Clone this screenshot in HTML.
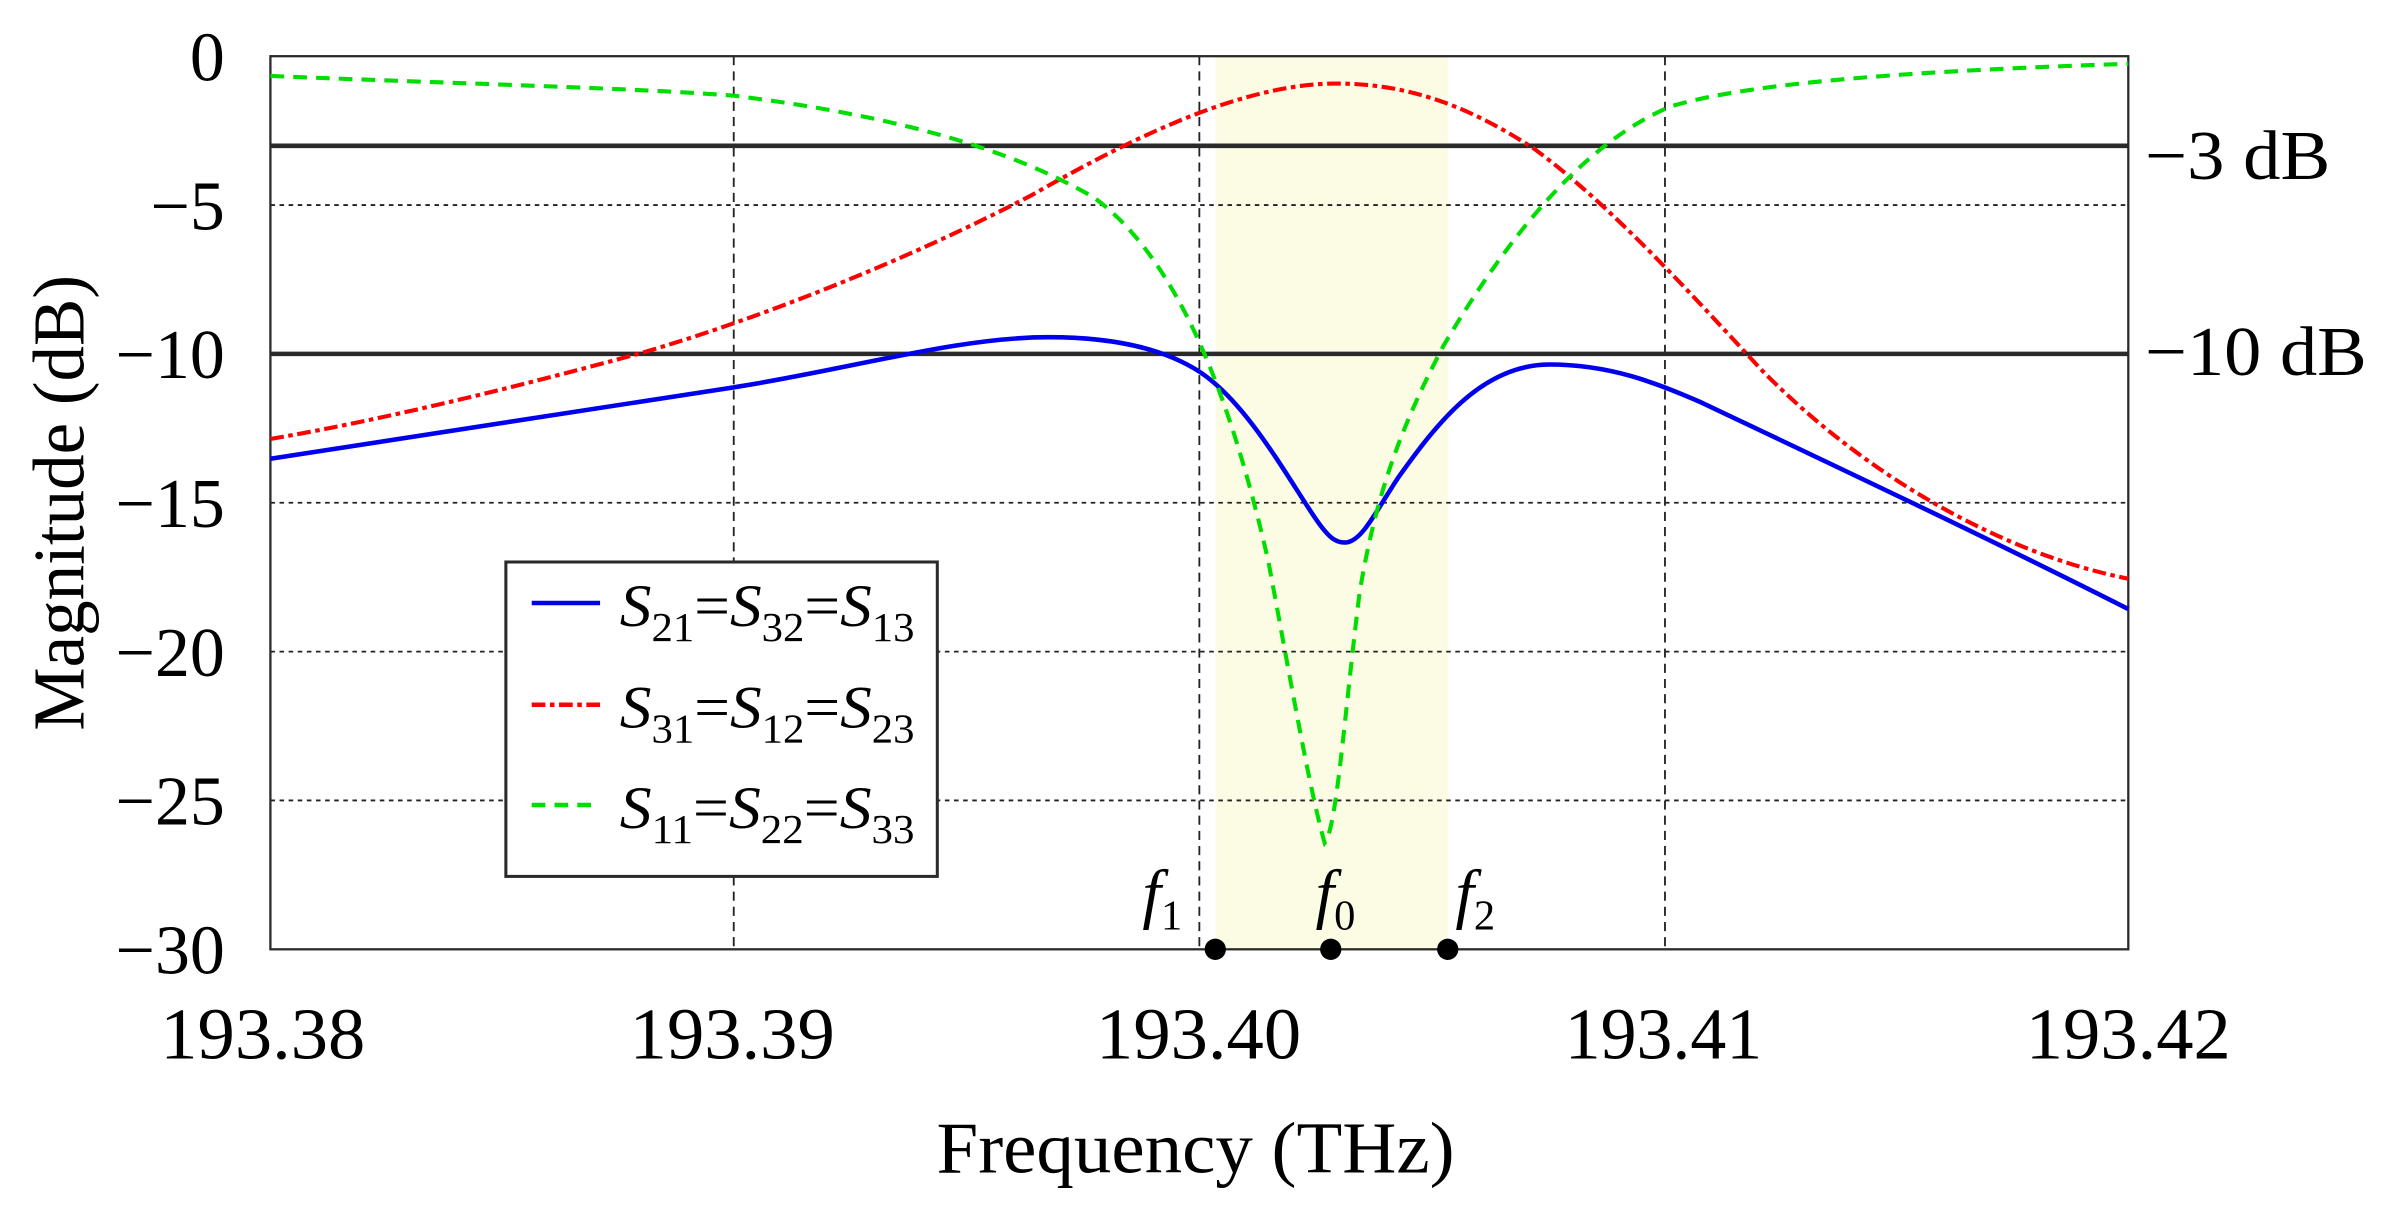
<!DOCTYPE html>
<html><head><meta charset="utf-8"><style>
html,body{margin:0;padding:0;background:#fff;}
svg{display:block;}
text{font-family:"Liberation Serif",serif;fill:#000;}
</style></head><body>
<svg width="2382" height="1206" viewBox="0 0 1568 794" preserveAspectRatio="none" xmlns="http://www.w3.org/2000/svg">
<rect x="800" y="37" width="153" height="588" fill="#fcfce4"/>
<g stroke="#222" stroke-width="1.2" stroke-dasharray="3,3" fill="none">
<line x1="178" y1="135" x2="1401" y2="135"/>
<line x1="178" y1="331" x2="1401" y2="331"/>
<line x1="178" y1="429" x2="1401" y2="429"/>
<line x1="178" y1="527" x2="1401" y2="527"/>
</g>
<g stroke="#222" stroke-width="1.2" stroke-dasharray="6,4" fill="none">
<line x1="483" y1="37" x2="483" y2="625"/>
<line x1="789.5" y1="37" x2="789.5" y2="625"/>
<line x1="1096" y1="37" x2="1096" y2="625"/>
</g>
<g stroke="#2a2a2a" stroke-width="3" fill="none">
<line x1="178" y1="96" x2="1401" y2="96"/>
<line x1="178" y1="233" x2="1401" y2="233"/>
</g>
<rect x="178" y="37" width="1223" height="588" fill="none" stroke="#2a2a2a" stroke-width="1.5"/>
<path fill="none" stroke="#0000ee" stroke-width="3" d="M178,302 C300,283 420,265 483,255 C560,243 630,222 690,222 C740,222 770,232 790,245 C820,265 845,310 865,340 C875,355 880,358 887,357 C897,355 905,338 920,315 C945,280 975,240 1020,240 C1060,240 1090,252 1120,265 C1200,303 1300,350 1401,401"/>
<path fill="none" stroke="#ff0000" stroke-width="2.7" stroke-dasharray="9,3,3,3" d="M178,289 C260,275 350,252 420,233 C500,210 600,170 680,128 C750,88 820,55 880,55 C930,55 970,72 1010,98 C1060,135 1110,190 1160,244 C1230,315 1320,365 1401,381"/>
<path fill="none" stroke="#00dd00" stroke-width="2.7" stroke-dasharray="9,6" d="M178,50 C300,55 420,58 483,63 C580,75 660,95 720,130 C775,170 810,260 835,370 C850,450 862,520 872,555 C880,545 885,470 895,390 C905,330 920,285 950,228 C990,160 1040,95 1100,70 C1150,55 1250,47 1401,42"/>
<rect x="333" y="370" width="284" height="207" fill="#fff" stroke="#2a2a2a" stroke-width="2"/>
<line x1="350" y1="397" x2="395" y2="397" stroke="#0000ee" stroke-width="3"/>
<line x1="350" y1="464" x2="395" y2="464" stroke="#ff0000" stroke-width="3" stroke-dasharray="9,3,3,3"/>
<line x1="350" y1="530" x2="395" y2="530" stroke="#00dd00" stroke-width="3" stroke-dasharray="9,6"/>
<g font-size="40">
<text x="408" y="412" textLength="194" lengthAdjust="spacingAndGlyphs"><tspan font-style="italic">S</tspan><tspan font-size="27" dy="10">21</tspan><tspan dy="-10">=</tspan><tspan font-style="italic">S</tspan><tspan font-size="27" dy="10">32</tspan><tspan dy="-10">=</tspan><tspan font-style="italic">S</tspan><tspan font-size="27" dy="10">13</tspan></text>
<text x="408" y="479" textLength="194" lengthAdjust="spacingAndGlyphs"><tspan font-style="italic">S</tspan><tspan font-size="27" dy="10">31</tspan><tspan dy="-10">=</tspan><tspan font-style="italic">S</tspan><tspan font-size="27" dy="10">12</tspan><tspan dy="-10">=</tspan><tspan font-style="italic">S</tspan><tspan font-size="27" dy="10">23</tspan></text>
<text x="408" y="545" textLength="194" lengthAdjust="spacingAndGlyphs"><tspan font-style="italic">S</tspan><tspan font-size="27" dy="10">11</tspan><tspan dy="-10">=</tspan><tspan font-style="italic">S</tspan><tspan font-size="27" dy="10">22</tspan><tspan dy="-10">=</tspan><tspan font-style="italic">S</tspan><tspan font-size="27" dy="10">33</tspan></text>
</g>
<g font-size="44">
<text x="752" y="603" font-style="italic">f<tspan font-size="28" font-style="normal" dy="9">1</tspan></text>
<text x="866" y="603" font-style="italic">f<tspan font-size="28" font-style="normal" dy="9">0</tspan></text>
<text x="958" y="603" font-style="italic">f<tspan font-size="28" font-style="normal" dy="9">2</tspan></text>
</g>
<g fill="#000"><circle cx="800" cy="625" r="7"/><circle cx="876" cy="625" r="7"/><circle cx="953" cy="625" r="7"/></g>
<g font-size="46" text-anchor="end">
<text x="148" y="53">0</text>
<text x="148" y="151">−5</text>
<text x="148" y="249">−10</text>
<text x="148" y="347">−15</text>
<text x="148" y="445">−20</text>
<text x="148" y="543">−25</text>
<text x="148" y="641">−30</text>
</g>
<g font-size="46">
<text x="1412" y="118" textLength="122" lengthAdjust="spacingAndGlyphs">−3 dB</text>
<text x="1412" y="247" textLength="146" lengthAdjust="spacingAndGlyphs">−10 dB</text>
</g>
<g font-size="48" text-anchor="middle">
<text x="173" y="697" textLength="135" lengthAdjust="spacingAndGlyphs">193.38</text>
<text x="482" y="697" textLength="135" lengthAdjust="spacingAndGlyphs">193.39</text>
<text x="789" y="697" textLength="135" lengthAdjust="spacingAndGlyphs">193.40</text>
<text x="1095" y="697" textLength="130" lengthAdjust="spacingAndGlyphs">193.41</text>
<text x="1401" y="697" textLength="135" lengthAdjust="spacingAndGlyphs">193.42</text>
<text x="787" y="772" textLength="341" lengthAdjust="spacingAndGlyphs">Frequency (THz)</text>
<text transform="translate(55,331) rotate(-90)" textLength="300" lengthAdjust="spacingAndGlyphs">Magnitude (dB)</text>
</g>
</svg>
</body></html>
